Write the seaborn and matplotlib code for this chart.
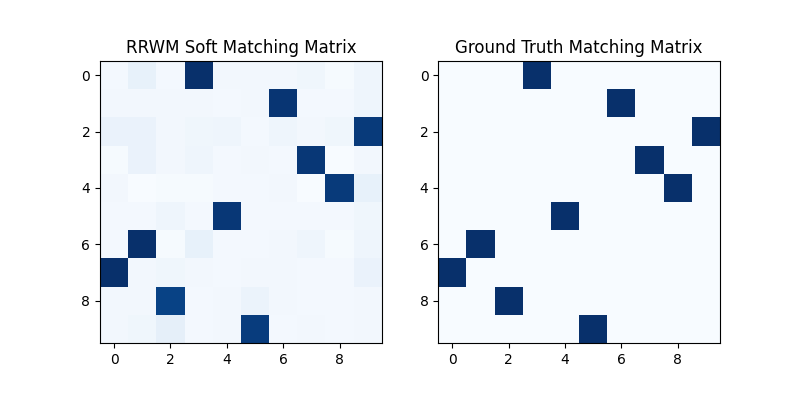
import numpy as np
import seaborn as sns
import matplotlib
matplotlib.use("Agg")
import matplotlib.pyplot as plt

# soft matching scores (rows = source nodes)
soft_rows = [
    [0.02, 0.08, 0.02, 1.00, 0.03, 0.03, 0.03, 0.04, 0.01, 0.05],
    [0.03, 0.03, 0.03, 0.03, 0.02, 0.03, 0.98, 0.02, 0.02, 0.05],
    [0.07, 0.07, 0.03, 0.04, 0.05, 0.02, 0.05, 0.03, 0.04, 0.96],
    [0.01, 0.07, 0.03, 0.05, 0.02, 0.03, 0.02, 0.97, 0.00, 0.03],
    [0.03, 0.00, 0.01, 0.01, 0.02, 0.02, 0.03, 0.00, 0.96, 0.08],
    [0.02, 0.02, 0.05, 0.02, 0.97, 0.02, 0.02, 0.02, 0.02, 0.04],
    [0.02, 1.00, 0.01, 0.08, 0.02, 0.02, 0.03, 0.05, 0.01, 0.05],
    [1.00, 0.03, 0.04, 0.03, 0.02, 0.03, 0.03, 0.02, 0.02, 0.07],
    [0.03, 0.03, 0.93, 0.02, 0.03, 0.06, 0.03, 0.02, 0.02, 0.03],
    [0.03, 0.04, 0.09, 0.02, 0.03, 0.95, 0.02, 0.03, 0.02, 0.03],
]

# ground truth permutation: row i matches column gt_perm[i]
gt_perm = [3, 6, 9, 7, 8, 4, 1, 0, 2, 5]

tick_labels = [0, 2, 4, 6, 8]

soft = np.array(soft_rows)
n = len(gt_perm)
gt = np.zeros((n, n))
gt[np.arange(n), gt_perm] = 1

fig, axes = plt.subplots(1, 2, figsize=(8, 4), dpi=100)

for ax, mat, title in zip(axes, [soft, gt],
                          ["RRWM Soft Matching Matrix", "Ground Truth Matching Matrix"]):
    sns.heatmap(mat, ax=ax, cmap="Blues", cbar=False, square=True,
                xticklabels=False, yticklabels=False)
    ax.set_xticks([t + 0.5 for t in tick_labels])
    ax.set_xticklabels(tick_labels)
    ax.set_yticks([t + 0.5 for t in tick_labels])
    ax.set_yticklabels(tick_labels, rotation=0)
    ax.tick_params(length=3.5, width=0.8)
    for s in ax.spines.values():
        s.set_visible(True)
        s.set_linewidth(0.8)
    ax.set_title(title, fontsize=12)

plt.savefig("out.png")
